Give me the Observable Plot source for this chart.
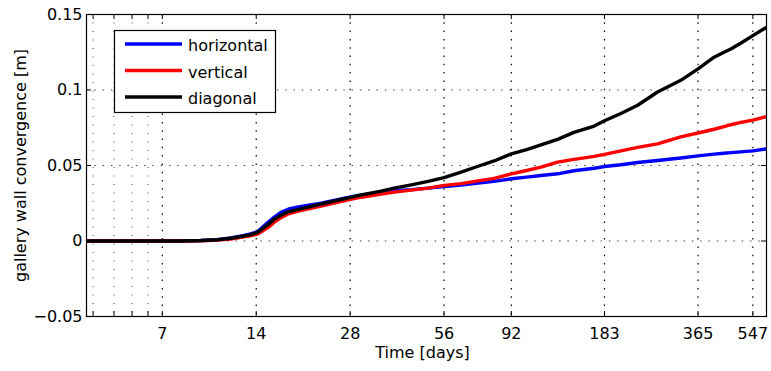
<!DOCTYPE html>
<html>
<head>
<meta charset="utf-8">
<script src="https://cdn.jsdelivr.net/npm/d3@7"></script>
<script src="https://cdn.jsdelivr.net/npm/@observablehq/plot@0.6"></script>
<style>
  html, body { margin: 0; padding: 0; background: #fff; }
  #chart { width: 771px; height: 371px; }
</style>
</head>
<body>
<div id="chart"></div>
<script>
const days = [4, 6, 8, 9.3, 10.5, 11.6, 12.8, 13.4, 14.1, 15.3, 16, 16.8, 17.8, 19.1, 22.6, 27.6, 30.4, 35.2, 38.7, 44, 49.8, 56, 63.5, 72, 81, 92, 103, 114.5, 129.5, 146, 169.6, 183, 206.6, 233.7, 270.7, 321.4, 365, 411, 442, 465, 500, 547, 605];
const horizontal = [0, 0, 0, 0.0003, 0.0008, 0.002, 0.0037, 0.0047, 0.006, 0.0125, 0.0158, 0.019, 0.0212, 0.0225, 0.025, 0.0288, 0.0305, 0.032, 0.0333, 0.034, 0.035, 0.036, 0.037, 0.0383, 0.0395, 0.0412, 0.0423, 0.0434, 0.0445, 0.0465, 0.0482, 0.0493, 0.0505, 0.052, 0.0533, 0.055, 0.0564, 0.0575, 0.0581, 0.0585, 0.059, 0.0597, 0.061];
const vertical = [0, 0, 0, 0.0002, 0.0006, 0.0013, 0.0027, 0.0035, 0.0045, 0.009, 0.0125, 0.0155, 0.018, 0.0198, 0.0232, 0.0272, 0.029, 0.031, 0.0324, 0.0337, 0.035, 0.0368, 0.038, 0.0398, 0.0415, 0.0445, 0.0467, 0.0489, 0.0522, 0.0541, 0.056, 0.0574, 0.0597, 0.062, 0.0643, 0.069, 0.0715, 0.074, 0.0757, 0.077, 0.0785, 0.08, 0.0824];
const diagonal = [0, 0, 0, 0.0003, 0.0008, 0.0018, 0.0033, 0.0042, 0.0055, 0.011, 0.0145, 0.017, 0.0195, 0.021, 0.0245, 0.0285, 0.0305, 0.033, 0.035, 0.0372, 0.0395, 0.042, 0.0456, 0.0495, 0.053, 0.0577, 0.0605, 0.0636, 0.0673, 0.0719, 0.0761, 0.0796, 0.0844, 0.0899, 0.0987, 0.1064, 0.114, 0.1217, 0.125, 0.1272, 0.131, 0.136, 0.1415];

const seriesNames = ["horizontal", "vertical", "diagonal"];
const seriesColors = ["#0000ff", "#ff0000", "#000000"];
const xTicks = [7, 14, 28, 56, 92, 183, 365, 547];
const xMinorTicks = [4.2, 4.9, 5.6, 6.3];
const yTicks = [-0.05, 0, 0.05, 0.1, 0.15];
const xLabel = "Time [days]";
const yLabel = "gallery wall convergence [m]";

const W = 771, H = 371;
const mL = 86, mR = 5, mT = 14, mB = 55;
const fw = W - mL - mR, fh = H - mT - mB;
const font = "DejaVu Sans, sans-serif";

const seriesValues = [horizontal, vertical, diagonal];
const rows = [];
seriesNames.forEach((name, i) => {
  days.forEach((d, j) => rows.push({series: name, day: d, value: seriesValues[i][j]}));
});

const fmtY = d => String(d).replace("-", "\u2212");

const chart = Plot.plot({
  width: W,
  height: H,
  marginLeft: mL,
  marginRight: mR,
  marginTop: mT,
  marginBottom: mB,
  style: {fontFamily: font, fontSize: "16px", background: "#fff", color: "#000", overflow: "visible"},
  x: {type: "log", domain: [4, 605], axis: null},
  y: {domain: [-0.05, 0.15], axis: null},
  color: {domain: seriesNames, range: seriesColors},
  marks: [
    Plot.ruleX(xMinorTicks, {stroke: "#444", strokeWidth: 1, strokeDasharray: "1,7.5"}),
    Plot.ruleX(xTicks, {stroke: "#000", strokeWidth: 1.2, strokeDasharray: "1.5,6.8"}),
    Plot.ruleY(yTicks.slice(1, -1), {stroke: "#444", strokeWidth: 1, strokeDasharray: "1.5,6.8"}),
    Plot.line(rows, {x: "day", y: "value", z: "series", stroke: "series", strokeWidth: 3.4, clip: true, strokeLinejoin: "round"}),
    Plot.tickX(xTicks.concat(xMinorTicks), {stroke: "#000", insetTop: fh - 5}),
    Plot.tickX(xTicks.concat(xMinorTicks), {stroke: "#000", insetBottom: fh - 5}),
    Plot.tickY(yTicks, {stroke: "#000", insetRight: fw - 5}),
    Plot.tickY(yTicks, {stroke: "#000", insetLeft: fw - 5}),
    Plot.frame({stroke: "#000", strokeWidth: 1.2}),
    Plot.text(xTicks, {x: d => d, text: d => String(d), frameAnchor: "bottom", lineAnchor: "top", dy: 11, fontSize: 16, fill: "#000"}),
    Plot.text(yTicks, {y: d => d, text: fmtY, frameAnchor: "left", textAnchor: "end", dx: -4, fontSize: 16, fill: "#000"}),
    Plot.text([xLabel], {frameAnchor: "bottom", textAnchor: "middle", dy: 41, dx: -4, fontSize: 16}),
    Plot.text([yLabel], {frameAnchor: "left", textAnchor: "middle", rotate: -90, dx: -66, fontSize: 16})
  ]
});

// legend box
const svg = d3.select(chart);
const lg = svg.append("g").attr("font-family", font).attr("font-size", 16).attr("text-anchor", "start");
lg.append("rect").attr("x", 114.5).attr("y", 30.5).attr("width", 161).attr("height", 82)
  .attr("fill", "#fff").attr("stroke", "#000").attr("stroke-width", 1.2);
seriesNames.forEach((name, i) => {
  const y = 44 + i * 26.5;
  lg.append("line").attr("x1", 125).attr("x2", 182).attr("y1", y).attr("y2", y)
    .attr("stroke", seriesColors[i]).attr("stroke-width", 3.4);
  lg.append("text").attr("x", 188).attr("y", y + 7).attr("fill", "#000").attr("text-anchor", "start").text(name);
});

document.getElementById("chart").appendChild(chart);
</script>
</body>
</html>
